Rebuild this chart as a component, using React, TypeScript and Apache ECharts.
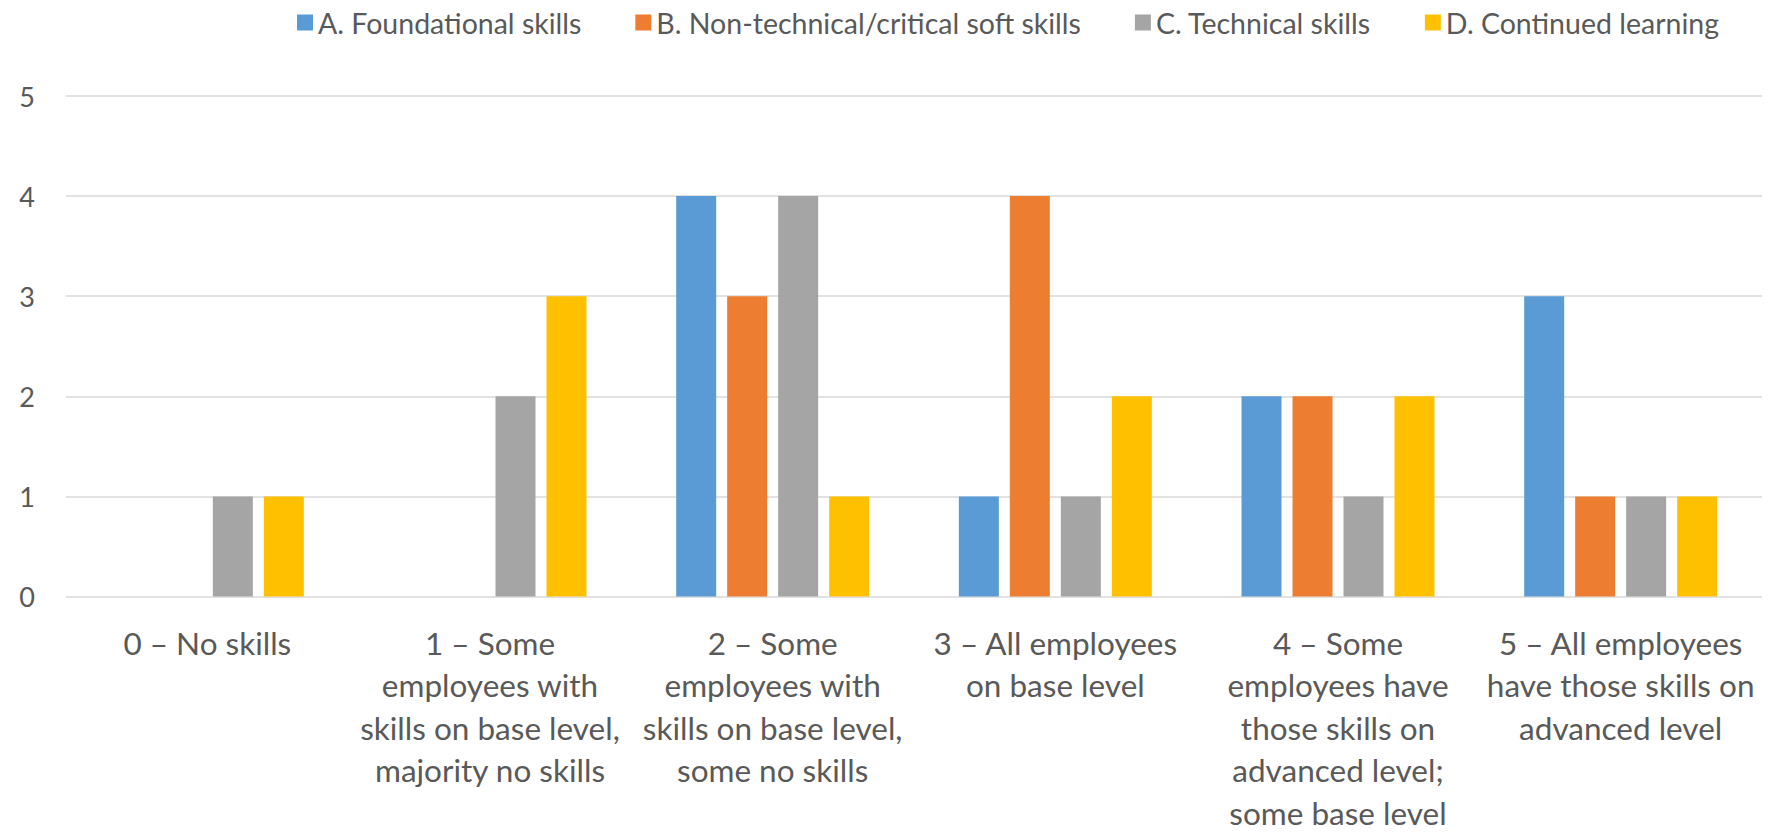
import React, { useEffect, useRef } from "react";
import * as echarts from "echarts";

const categories = [
  "0 – No skills",
  "1 – Some\nemployees with\nskills on base level,\nmajority no skills",
  "2 – Some\nemployees with\nskills on base level,\nsome no skills",
  "3 – All employees\non base level",
  "4 – Some\nemployees have\nthose skills on\nadvanced level;\nsome base level",
  "5 – All employees\nhave those skills on\nadvanced level",
];

const seriesNames = [
  "A. Foundational skills",
  "B. Non-technical/critical soft skills",
  "C. Technical skills",
  "D. Continued learning",
];

const foundational = [0, 0, 4, 1, 2, 3];
const nonTechnical = [0, 0, 3, 4, 2, 1];
const technical = [1, 2, 4, 1, 1, 1];
const continued = [1, 3, 1, 2, 2, 1];

const colors = ["#5B9BD5", "#ED7D31", "#A5A5A5", "#FFC000"];

export default function App() {
  const ref = useRef<HTMLDivElement>(null);
  useEffect(() => {
    if (!ref.current) return;
    const chart = echarts.init(ref.current, null, { renderer: "svg" });
    const values = [foundational, nonTechnical, technical, continued];
    const font = "Lato, 'Open Sans', sans-serif";
    chart.setOption({
      animation: false,
      color: colors,
      textStyle: { fontFamily: font },
      legend: {
        left: 292,
        top: 3,
        itemWidth: 16,
        itemHeight: 16,
        itemGap: 54,
        icon: "rect",
        textStyle: { fontSize: 28.5, color: "#595959", fontFamily: font },
        data: seriesNames,
      },
      grid: { left: 66, right: 11, top: 96, bottom: 234, containLabel: false },
      xAxis: {
        type: "category",
        data: categories,
        axisLine: { show: false },
        axisTick: { show: false },
        axisLabel: {
          interval: 0,
          margin: 25,
          fontSize: 31.5,
          lineHeight: 42.5,
          color: "#595959",
          fontFamily: font,
        },
      },
      yAxis: {
        type: "value",
        min: 0,
        max: 5,
        interval: 1,
        axisLine: { show: false },
        axisTick: { show: false },
        splitLine: { lineStyle: { color: "#D9D9D9", width: 1.5 } },
        axisLabel: { fontSize: 27, color: "#595959", margin: 31, fontFamily: font },
      },
      series: seriesNames.map((name, i) => ({
        name,
        type: "bar",
        data: values[i],
        barWidth: 40,
        barGap: "27.5%",
        itemStyle: { color: colors[i] },
      })),
    });
    return () => chart.dispose();
  }, []);
  return (
    <div
      ref={ref}
      style={{ position: "absolute", left: 0, top: 0, width: 1773, height: 834 }}
    />
  );
}
